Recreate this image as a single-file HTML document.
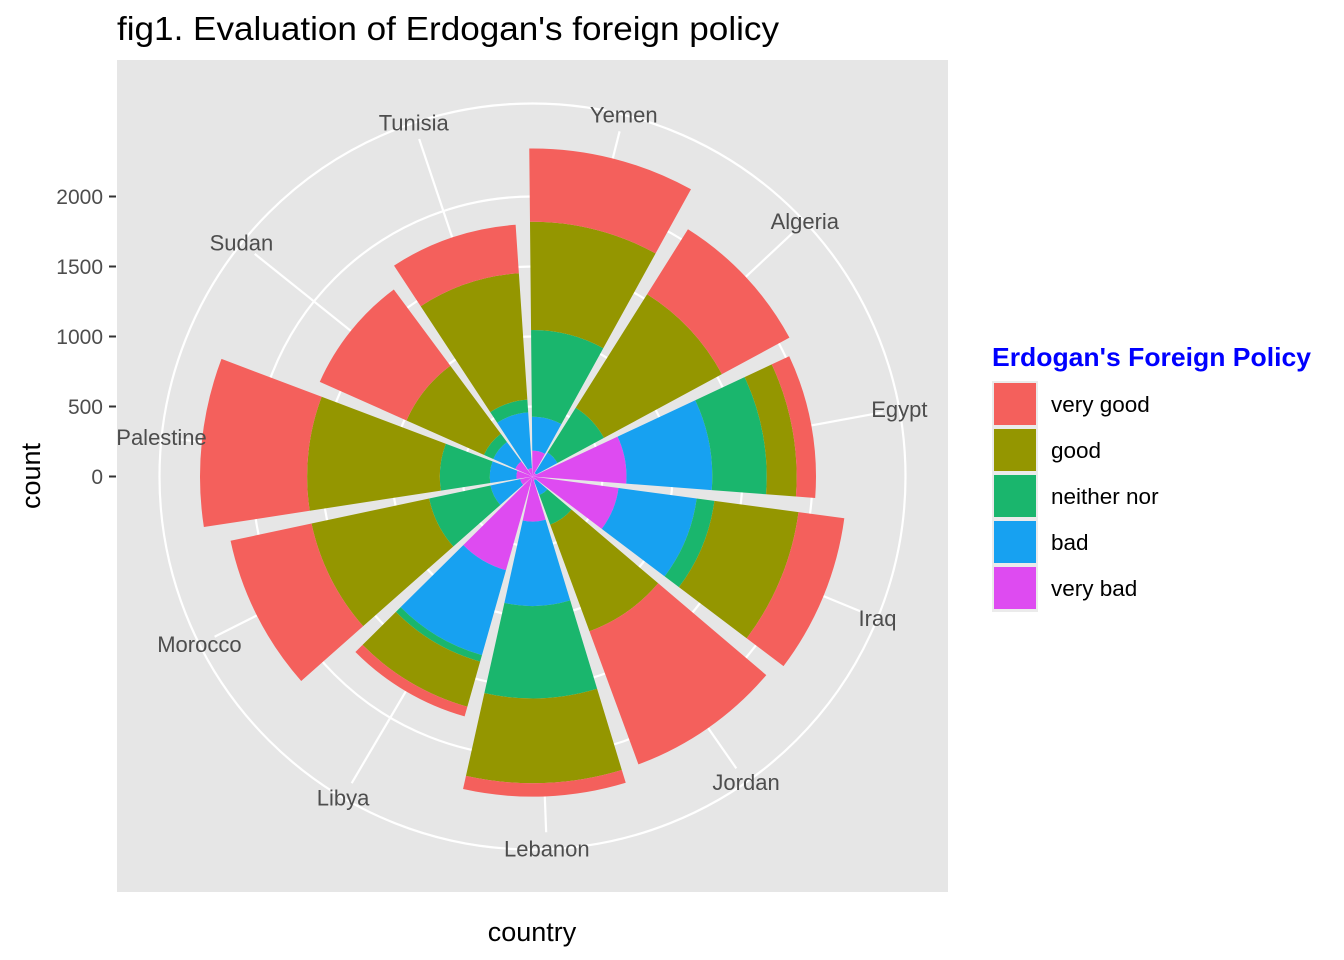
<!DOCTYPE html>
<html><head><meta charset="utf-8"><style>
body{margin:0;background:#fff;}
svg{display:block;font-family:"Liberation Sans",Arial,sans-serif;}
</style></head><body>
<svg id="chart" width="1344" height="960" viewBox="0 0 1344 960">
<text x="117" y="40" font-size="33" fill="#000" textLength="662" lengthAdjust="spacingAndGlyphs">fig1. Evaluation of Erdogan's foreign policy</text>
<rect x="117" y="60" width="831" height="832" fill="#e6e6e6"/>
<g id="grid"></g>
<g id="bars"></g>
<g id="labels"></g>
<g id="yaxis"></g>
<text x="0" y="0" transform="translate(40,476) rotate(-90)" text-anchor="middle" font-size="27" fill="#000">count</text>
<text x="532" y="941" text-anchor="middle" font-size="27" fill="#000">country</text>
<g id="legend">
<text x="992" y="366" font-size="26" font-weight="bold" fill="#0000ff" textLength="319" lengthAdjust="spacingAndGlyphs">Erdogan's Foreign Policy</text>
</g>
</svg>
<script>
const countries = ["Yemen","Algeria","Egypt","Iraq","Jordan","Lebanon","Libya","Morocco","Palestine","Sudan","Tunisia"];
const levels = ["very good","good","neither nor","bad","very bad"];
const veryBad = [185,30,671,620,30,322,696,90,115,135,60];
const bad = [242,172,613,563,110,603,630,217,190,172,399];
const neither = [619,378,389,128,226,660,48,448,357,73,91];
const good = [774,958,214,606,812,606,335,859,948,605,905];
const veryGood = [523,548,138,330,1013,96,72,591,765,678,347];
const yTicks = [0,500,1000,1500,2000];

const colors = {"very good":"#f4605c","good":"#949600","neither nor":"#1ab66d","bad":"#17a1f1","very bad":"#de4bf1"};
const NS="http://www.w3.org/2000/svg";
const cx=532.5, cy=476.5, pxPerCount=0.14;
const step=360/countries.length, half=step*0.45;
function rScale(v){return v*pxPerCount;}
function ang(i){return step*i + step/2 - 2.2;}
function pt(r,a){const t=a*Math.PI/180;return [cx+r*Math.sin(t), cy-r*Math.cos(t)];}
function mk(tag,attrs,parent){const e=document.createElementNS(NS,tag);for(const k in attrs)e.setAttribute(k,attrs[k]);parent.appendChild(e);return e;}

const grid=document.getElementById('grid');
yTicks.slice(1).forEach(t=>{
  const c=mk('circle',{cx:cx,cy:cy,r:rScale(t),fill:'none',stroke:'#fff','stroke-width':2.2},grid);
  
  
});
const outer=mk('circle',{cx:cx,cy:cy,r:373,fill:'none',stroke:'#fff','stroke-width':2.2},grid);


countries.forEach((c,i)=>{
  const p=pt(356,ang(i));
  const l=mk('line',{x1:cx,y1:cy,x2:p[0],y2:p[1],stroke:'#fff','stroke-width':2.2},grid);
  
  
});

const bars=document.getElementById('bars');
const series=[veryBad,bad,neither,good,veryGood];
const seriesLevels=["very bad","bad","neither nor","good","very good"];
countries.forEach((c,i)=>{
  let cum=0;
  const a0=ang(i)-half, a1=ang(i)+half;
  series.forEach((s,k)=>{
    const r0=rScale(cum), r1=rScale(cum+s[i]);
    cum+=s[i];
    const p0=pt(r0,a0),p1=pt(r1,a0),p2=pt(r1,a1),p3=pt(r0,a1);
    let d='M'+p0[0]+','+p0[1]+' L'+p1[0]+','+p1[1]+' A'+r1+','+r1+' 0 0 1 '+p2[0]+','+p2[1]+' L'+p3[0]+','+p3[1];
    if(r0>0) d+=' A'+r0+','+r0+' 0 0 0 '+p0[0]+','+p0[1];
    d+=' Z';
    const e=mk('path',{d:d,fill:colors[seriesLevels[k]]},bars);
    
    
  });
});

const labels=document.getElementById('labels');
countries.forEach((c,i)=>{
  const p=pt(373,ang(i));
  const t=mk('text',{x:p[0],y:p[1]+7.5,'text-anchor':'middle','font-size':22,fill:'#4d4d4d'},labels);
  t.textContent=c;
  
  
});

const yaxis=document.getElementById('yaxis');
yTicks.forEach(t=>{
  const y=cy-rScale(t);
  const l=mk('line',{x1:109,x2:116,y1:y,y2:y,stroke:'#333','stroke-width':2},yaxis);
  
  
  const tx=mk('text',{x:103,y:y+7.5,'text-anchor':'end','font-size':21,fill:'#4d4d4d'},yaxis);
  tx.textContent=t;
  
  
});

const legend=document.getElementById('legend');
const bg=mk('rect',{x:992,y:381,width:46,height:231,fill:'#ebebeb'},legend);


levels.forEach((lv,j)=>{
  const y=381+j*46;
  const r=mk('rect',{x:994,y:y+2,width:42,height:42,fill:colors[lv]},legend);
  
  
  const t=mk('text',{x:1051,y:y+31,'font-size':22.5,fill:'#000'},legend);
  t.textContent=lv;
  
  
});
</script>
</body></html>
